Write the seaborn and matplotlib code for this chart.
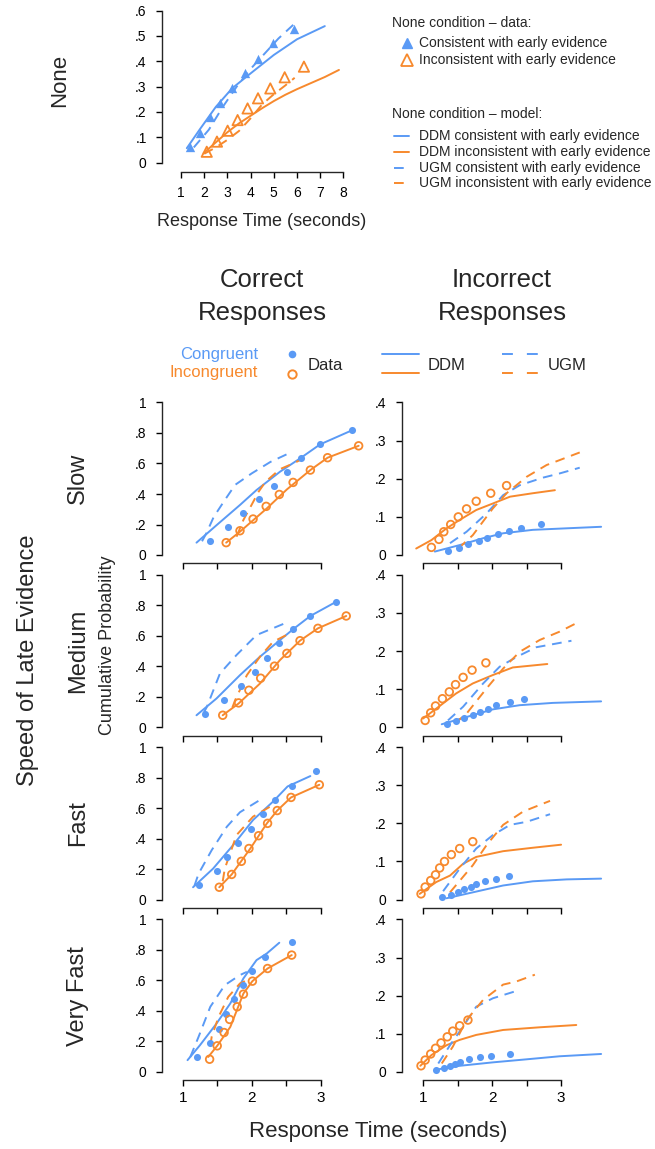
import matplotlib
matplotlib.use("Agg")
import seaborn as sns
import matplotlib.pyplot as plt
from matplotlib.lines import Line2D

W, H = 655, 1149
BLUE = "#5a9af5"
ORANGE = "#f7892d"
LW = 1.4
DASH = (0, (5, 3.5))

# ---------------- None condition (top panel) ----------------
none_xticks = [1, 2, 3, 4, 5, 6, 7, 8]
none_yticks = [0, .1, .2, .3, .4, .5, .6]
none_ylabels = ["0", ".1", ".2", ".3", ".4", ".5", ".6"]

none_dat_con_x = [1.39, 1.82, 2.23, 2.69, 3.19, 3.74, 4.30, 4.97, 5.89]
none_dat_con_y = [0.063, 0.118, 0.179, 0.237, 0.293, 0.353, 0.408, 0.474, 0.526]
none_dat_inc_x = [2.11, 2.55, 3.01, 3.44, 3.87, 4.32, 4.85, 5.47, 6.30]
none_dat_inc_y = [0.043, 0.083, 0.126, 0.168, 0.214, 0.254, 0.293, 0.337, 0.379]
none_ddm_con_x = [1.25, 1.8, 2.5, 3.2, 3.9, 5.0, 6.0, 7.2]
none_ddm_con_y = [0.057, 0.13, 0.22, 0.293, 0.345, 0.425, 0.487, 0.539]
none_ddm_inc_x = [1.97, 2.5, 3.0, 3.5, 4.0, 4.5, 5.0, 5.5, 6.0, 6.5, 7.2, 7.81]
none_ddm_inc_y = [0.037, 0.08, 0.12, 0.155, 0.185, 0.215, 0.243, 0.268, 0.29, 0.31, 0.338, 0.366]
none_ugm_con_x = [1.55, 2.2, 2.8, 3.4, 4.0, 4.6, 5.2, 5.85]
none_ugm_con_y = [0.06, 0.13, 0.22, 0.30, 0.37, 0.43, 0.49, 0.545]
none_ugm_inc_x = [2.0, 2.5, 3.0, 3.5, 4.0, 4.5, 5.0, 5.5, 5.9]
none_ugm_inc_y = [0.035, 0.06, 0.09, 0.125, 0.175, 0.23, 0.27, 0.305, 0.335]

# ---------------- late evidence panels ----------------
rows = ["Slow", "Medium", "Fast", "Very Fast"]
rt_ticks = [1, 1.5, 2, 2.5, 3]
rt_labels = ["1", "", "2", "", "3"]
cor_yticks = [0, .2, .4, .6, .8, 1]
cor_ylabels = ["0", ".2", ".4", ".6", ".8", "1"]
inc_yticks = [0, .1, .2, .3, .4]
inc_ylabels = ["0", ".1", ".2", ".3", ".4"]

slow_cor = {
    "dat_con": ([1.39, 1.66, 1.88, 2.10, 2.32, 2.51, 2.72, 2.99, 3.45],
                [0.094, 0.181, 0.273, 0.365, 0.454, 0.541, 0.633, 0.725, 0.817]),
    "dat_inc": ([1.63, 1.83, 2.02, 2.21, 2.40, 2.60, 2.85, 3.10, 3.55],
                [0.081, 0.159, 0.236, 0.319, 0.397, 0.476, 0.557, 0.638, 0.716]),
    "ddm_con": ([1.2, 1.52, 1.83, 2.07, 2.41, 2.70, 2.99, 3.45],
                [0.081, 0.207, 0.328, 0.426, 0.546, 0.633, 0.725, 0.817]),
    "ddm_inc": ([1.63, 1.83, 2.22, 2.51, 2.85, 3.10, 3.55],
                [0.081, 0.153, 0.306, 0.43, 0.557, 0.638, 0.716]),
    "ugm_con": ([1.28, 1.34, 1.45, 1.61, 1.76, 2.0, 2.27, 2.53],
                [0.09, 0.14, 0.25, 0.36, 0.46, 0.535, 0.61, 0.665]),
    "ugm_inc": ([1.78, 1.88, 2.0, 2.1, 2.2, 2.41, 2.6, 2.75],
                [0.12, 0.23, 0.33, 0.415, 0.48, 0.563, 0.60, 0.633]),
}
slow_inc = {
    "dat_con": ([1.36, 1.52, 1.65, 1.81, 1.93, 2.08, 2.24, 2.42, 2.71],
                [0.010, 0.019, 0.028, 0.037, 0.045, 0.055, 0.064, 0.072, 0.082]),
    "dat_inc": ([1.12, 1.23, 1.30, 1.40, 1.51, 1.63, 1.77, 1.98, 2.21],
                [0.020, 0.041, 0.061, 0.080, 0.100, 0.121, 0.141, 0.162, 0.182]),
    "ddm_con": ([1.17, 1.53, 1.87, 2.16, 2.59, 3.08, 3.58],
                [0.009, 0.026, 0.044, 0.057, 0.066, 0.070, 0.074]),
    "ddm_inc": ([0.90, 1.12, 1.34, 1.53, 1.77, 2.01, 2.26, 2.59, 2.91],
                [0.017, 0.039, 0.070, 0.092, 0.118, 0.135, 0.153, 0.162, 0.170]),
    "ugm_con": ([1.39, 1.63, 1.92, 2.16, 2.40, 2.74, 2.98, 3.27],
                [0.031, 0.061, 0.109, 0.157, 0.183, 0.203, 0.214, 0.229]),
    "ugm_inc": ([1.51, 1.72, 2.01, 2.21, 2.50, 2.79, 2.98, 3.27],
                [0.017, 0.052, 0.122, 0.162, 0.205, 0.236, 0.249, 0.269]),
}
medium_cor = {
    "dat_con": ([1.33, 1.60, 1.84, 2.05, 2.22, 2.40, 2.60, 2.85, 3.22],
                [0.090, 0.182, 0.274, 0.364, 0.456, 0.550, 0.643, 0.730, 0.822]),
    "dat_inc": ([1.58, 1.81, 1.96, 2.13, 2.33, 2.51, 2.70, 2.96, 3.37],
                [0.079, 0.160, 0.243, 0.322, 0.401, 0.485, 0.568, 0.649, 0.730]),
    "ddm_con": ([1.2, 1.49, 1.83, 2.12, 2.41, 2.60, 2.85, 3.22],
                [0.079, 0.189, 0.342, 0.463, 0.572, 0.643, 0.730, 0.822]),
    "ddm_inc": ([1.58, 1.81, 2.12, 2.41, 2.70, 2.96, 3.37],
                [0.079, 0.156, 0.287, 0.441, 0.568, 0.649, 0.730]),
    "ugm_con": ([1.3, 1.35, 1.54, 1.78, 2.07, 2.46],
                [0.09, 0.134, 0.353, 0.474, 0.605, 0.678]),
    "ugm_inc": ([1.72, 1.76, 1.93, 2.12, 2.31, 2.60],
                [0.13, 0.178, 0.342, 0.463, 0.561, 0.627]),
}
medium_inc = {
    "dat_con": ([1.35, 1.47, 1.60, 1.73, 1.83, 1.94, 2.06, 2.26, 2.46],
                [0.008, 0.016, 0.025, 0.032, 0.040, 0.049, 0.058, 0.067, 0.075]),
    "dat_inc": ([1.03, 1.11, 1.18, 1.28, 1.38, 1.47, 1.58, 1.71, 1.91],
                [0.018, 0.038, 0.056, 0.075, 0.093, 0.112, 0.131, 0.150, 0.169]),
    "ddm_con": ([1.27, 1.63, 2.01, 2.40, 2.88, 3.58],
                [0.008, 0.027, 0.047, 0.058, 0.064, 0.068]),
    "ddm_inc": ([1.0, 1.19, 1.48, 1.72, 2.01, 2.30, 2.80],
                [0.023, 0.049, 0.089, 0.115, 0.137, 0.157, 0.166]),
    "ugm_con": ([1.36, 1.58, 1.87, 2.11, 2.36, 2.64, 3.15],
                [0.018, 0.054, 0.115, 0.159, 0.185, 0.210, 0.227]),
    "ugm_inc": ([1.46, 1.63, 1.92, 2.16, 2.40, 2.69, 2.98, 3.22],
                [0.010, 0.036, 0.102, 0.154, 0.198, 0.229, 0.251, 0.273]),
}
fast_cor = {
    "dat_con": ([1.23, 1.49, 1.64, 1.80, 1.99, 2.16, 2.34, 2.58, 2.93],
                [0.093, 0.187, 0.280, 0.372, 0.465, 0.559, 0.650, 0.747, 0.841]),
    "dat_inc": ([1.53, 1.71, 1.85, 1.96, 2.10, 2.23, 2.37, 2.57, 2.98],
                [0.081, 0.165, 0.251, 0.335, 0.419, 0.500, 0.584, 0.670, 0.753]),
    "ddm_con": ([1.15, 1.44, 1.73, 2.02, 2.31, 2.52, 2.85],
                [0.081, 0.203, 0.357, 0.522, 0.643, 0.742, 0.81]),
    "ddm_inc": ([1.53, 1.71, 1.98, 2.22, 2.37, 2.57, 2.98],
                [0.081, 0.165, 0.335, 0.500, 0.584, 0.670, 0.753]),
    "ugm_con": ([1.17, 1.23, 1.42, 1.64, 1.83, 2.10],
                [0.09, 0.17, 0.324, 0.478, 0.573, 0.648]),
    "ugm_inc": ([1.58, 1.61, 1.78, 2.02, 2.31],
                [0.12, 0.203, 0.423, 0.544, 0.621]),
}
fast_inc = {
    "dat_con": ([1.28, 1.40, 1.51, 1.60, 1.70, 1.77, 1.89, 2.05, 2.25],
                [0.006, 0.013, 0.021, 0.028, 0.034, 0.041, 0.048, 0.055, 0.062]),
    "dat_inc": ([0.97, 1.03, 1.11, 1.18, 1.24, 1.31, 1.41, 1.53, 1.72],
                [0.015, 0.033, 0.050, 0.065, 0.083, 0.100, 0.118, 0.134, 0.152]),
    "ddm_con": ([1.34, 1.72, 2.16, 2.59, 3.08, 3.58],
                [0.0035, 0.019, 0.037, 0.048, 0.053, 0.055]),
    "ddm_inc": ([0.95, 1.19, 1.39, 1.58, 1.77, 2.16, 2.59, 3.0],
                [0.015, 0.046, 0.063, 0.094, 0.112, 0.127, 0.136, 0.144]),
    "ugm_con": ([1.29, 1.53, 1.77, 2.01, 2.26, 2.50, 2.84],
                [0.022, 0.081, 0.134, 0.169, 0.196, 0.204, 0.224]),
    "ugm_inc": ([1.39, 1.72, 1.92, 2.16, 2.45, 2.84],
                [0.019, 0.090, 0.143, 0.196, 0.231, 0.259]),
}
vfast_cor = {
    "dat_con": ([1.21, 1.40, 1.53, 1.63, 1.75, 1.88, 2.00, 2.19, 2.59],
                [0.098, 0.190, 0.284, 0.379, 0.475, 0.567, 0.663, 0.755, 0.853]),
    "dat_inc": ([1.39, 1.50, 1.60, 1.68, 1.79, 1.88, 2.01, 2.23, 2.58],
                [0.083, 0.171, 0.258, 0.344, 0.427, 0.510, 0.595, 0.678, 0.766]),
    "ddm_con": ([1.07, 1.25, 1.49, 1.69, 1.88, 2.07, 2.22, 2.40],
                [0.077, 0.175, 0.317, 0.449, 0.613, 0.733, 0.777, 0.847]),
    "ddm_inc": ([1.37, 1.50, 1.69, 1.88, 2.01, 2.23, 2.58],
                [0.098, 0.171, 0.295, 0.514, 0.595, 0.678, 0.766]),
    "ugm_con": ([1.11, 1.23, 1.40, 1.61, 1.83, 1.93],
                [0.098, 0.23, 0.427, 0.569, 0.635, 0.656]),
    "ugm_inc": ([1.40, 1.42, 1.52, 1.66, 1.83, 1.93],
                [0.17, 0.23, 0.361, 0.492, 0.58, 0.60]),
}
vfast_inc = {
    "dat_con": ([1.18, 1.30, 1.39, 1.46, 1.53, 1.66, 1.83, 1.99, 2.26],
                [0.006, 0.011, 0.016, 0.022, 0.026, 0.033, 0.038, 0.042, 0.048]),
    "dat_inc": ([0.97, 1.03, 1.11, 1.18, 1.26, 1.35, 1.43, 1.53, 1.65],
                [0.016, 0.031, 0.047, 0.062, 0.076, 0.092, 0.107, 0.121, 0.136]),
    "ddm_con": ([1.19, 1.53, 2.01, 2.50, 2.98, 3.58],
                [0.006, 0.016, 0.025, 0.033, 0.041, 0.047]),
    "ddm_inc": ([0.96, 1.12, 1.34, 1.53, 1.77, 2.16, 2.69, 3.22],
                [0.016, 0.044, 0.070, 0.084, 0.097, 0.110, 0.117, 0.123]),
    "ugm_con": ([1.22, 1.39, 1.58, 1.77, 2.01, 2.40],
                [0.022, 0.070, 0.119, 0.171, 0.193, 0.215]),
    "ugm_inc": ([1.27, 1.43, 1.63, 1.87, 2.16, 2.35, 2.62],
                [0.022, 0.066, 0.136, 0.189, 0.229, 0.237, 0.255]),
}
correct_panels = [slow_cor, medium_cor, fast_cor, vfast_cor]
incorrect_panels = [slow_inc, medium_inc, fast_inc, vfast_inc]


def px_axes(fig, left, top, right, bottom):
    return fig.add_axes([left / W, 1 - bottom / H, (right - left) / W, (bottom - top) / H])


def style_axes(ax, xticks, xlabels, yticks, ylabels, xb, yb, xpad=4):
    sns.despine(ax=ax)
    ax.spines["left"].set_bounds(*yb)
    ax.spines["bottom"].set_bounds(*xb)
    for s in ["left", "bottom"]:
        ax.spines[s].set_linewidth(1.0)
    ax.set_xticks(xticks)
    ax.set_xticklabels(xlabels)
    ax.set_yticks(yticks)
    ax.set_yticklabels(ylabels)
    ax.tick_params(axis="both", direction="out", length=4, width=1.0, labelsize=10, colors="black")
    ax.tick_params(axis="y", pad=7)
    ax.tick_params(axis="x", pad=xpad)
    ax.set_xlabel("")
    ax.set_ylabel("")
    ax.patch.set_alpha(0)


def curve(ax, xs, ys, color, dashed=False):
    kw = dict(linestyle=DASH) if dashed else {}
    sns.lineplot(x=xs, y=ys, ax=ax, color=color, linewidth=LW, sort=False,
                 estimator=None, **kw)


def draw_panel(ax, p):
    curve(ax, *p["ddm_con"], BLUE)
    curve(ax, *p["ddm_inc"], ORANGE)
    curve(ax, *p["ugm_con"], BLUE, dashed=True)
    curve(ax, *p["ugm_inc"], ORANGE, dashed=True)
    sns.scatterplot(x=p["dat_con"][0], y=p["dat_con"][1], ax=ax, color=BLUE,
                    s=26, linewidth=0, zorder=5)
    sns.scatterplot(x=p["dat_inc"][0], y=p["dat_inc"][1], ax=ax, facecolor="none",
                    edgecolor=ORANGE, s=30, linewidth=1.3, zorder=5)


sns.set_style("ticks")
plt.rcParams["font.family"] = ["Liberation Sans", "DejaVu Sans"]

fig = plt.figure(figsize=(W / 100, H / 100), dpi=100)

# overlay in pixel coordinates for labels and legends
ov = fig.add_axes([0, 0, 1, 1])
ov.set_xlim(0, W)
ov.set_ylim(H, 0)
ov.axis("off")

# ---- top panel
ax0 = px_axes(fig, 162, 5.6, 348, 172)
curve(ax0, none_ddm_con_x, none_ddm_con_y, BLUE)
curve(ax0, none_ddm_inc_x, none_ddm_inc_y, ORANGE)
curve(ax0, none_ugm_con_x, none_ugm_con_y, BLUE, dashed=True)
curve(ax0, none_ugm_inc_x, none_ugm_inc_y, ORANGE, dashed=True)
sns.scatterplot(x=none_dat_con_x, y=none_dat_con_y, ax=ax0, color=BLUE, marker="^",
                s=45, linewidth=0, zorder=5)
sns.scatterplot(x=none_dat_inc_x, y=none_dat_inc_y, ax=ax0, marker="^", facecolor="none",
                edgecolor=ORANGE, s=55, linewidth=1.3, zorder=5)
ax0.set_xlim(0.18, 8.2)
ax0.set_ylim(-0.037, 0.62)
style_axes(ax0, none_xticks, [str(v) for v in none_xticks], none_yticks, none_ylabels,
           (1, 8), (0, 0.6), xpad=6)

# ---- grid of panels
for i in range(4):
    top = 402.5 + 172.3 * i - 0.02 * 152.5
    bottom = top + 1.075 * 152.5
    axl = px_axes(fig, 162, top, 369, bottom)
    draw_panel(axl, correct_panels[i])
    axl.set_xlim(0.7, 3.7)
    axl.set_ylim(-0.055, 1.02)
    xl = rt_labels if i == 3 else [""] * 5
    style_axes(axl, rt_ticks, xl, cor_yticks, cor_ylabels, (1, 3), (0, 1))

    axr = px_axes(fig, 401.7, top, 609.4, bottom)
    draw_panel(axr, incorrect_panels[i])
    axr.set_xlim(0.69, 3.7)
    axr.set_ylim(-0.022, 0.408)
    style_axes(axr, rt_ticks, xl, inc_yticks, inc_ylabels, (1, 3), (0, 0.4))
    for a in (axl, axr):
        a.tick_params(axis="x", labelsize=11)

    ov.text(78, 478.7 + 172.3 * i, rows[i], rotation=90, ha="center", va="center", fontsize=17)

# ---- text labels
ov.text(60, 80, "None", rotation=90, ha="center", va="center", fontsize=16)
ov.text(262, 222, "Response Time (seconds)", ha="center", va="center", fontsize=13)
ov.text(262, 280, "Correct", ha="center", va="center", fontsize=18.5)
ov.text(262, 313, "Responses", ha="center", va="center", fontsize=18.5)
ov.text(502, 280, "Incorrect", ha="center", va="center", fontsize=18.5)
ov.text(502, 313, "Responses", ha="center", va="center", fontsize=18.5)
ov.text(28, 660, "Speed of Late Evidence", rotation=90, ha="center", va="center", fontsize=17)
ov.text(108, 645, "Cumulative Probability", rotation=90, ha="center", va="center", fontsize=13)
ov.text(378, 1132, "Response Time (seconds)", ha="center", va="center", fontsize=16)

# ---- top legend
ov.text(392, 22.7, "None condition \u2013 data:", ha="left", va="center", fontsize=10)
ov.plot([407], [43.3], marker="^", color=BLUE, markersize=7, linestyle="none")
ov.text(419, 43.3, "Consistent with early evidence", ha="left", va="center", fontsize=10)
ov.plot([407], [60], marker="^", markerfacecolor="none", markeredgecolor=ORANGE,
        markersize=8, markeredgewidth=1.3, linestyle="none")
ov.text(419, 60, "Inconsistent with early evidence", ha="left", va="center", fontsize=10)
ov.text(392, 114.3, "None condition \u2013 model:", ha="left", va="center", fontsize=10)
model_rows = [("DDM consistent with early evidence", BLUE, "-"),
              ("DDM inconsistent with early evidence", ORANGE, "-"),
              ("UGM consistent with early evidence", BLUE, DASH),
              ("UGM inconsistent with early evidence", ORANGE, DASH)]
for j, (lab, col, ls) in enumerate(model_rows):
    yy = 136 + 15.8 * j
    ov.add_line(Line2D([394, 409], [yy, yy], color=col, linewidth=LW, linestyle=ls))
    ov.text(419, yy, lab, ha="left", va="center", fontsize=10)

# ---- middle legend
ov.text(258, 355, "Congruent", ha="right", va="center", fontsize=12, color=BLUE)
ov.text(258, 373, "Incongruent", ha="right", va="center", fontsize=12, color=ORANGE)
ov.plot([292], [354], marker="o", color=BLUE, markersize=5.5, markeredgewidth=0, linestyle="none")
ov.plot([292], [374], marker="o", markerfacecolor="none", markeredgecolor=ORANGE,
        markersize=6, markeredgewidth=1.4, linestyle="none")
ov.text(308, 365, "Data", ha="left", va="center", fontsize=12)
ov.add_line(Line2D([382, 419], [354, 354], color=BLUE, linewidth=LW))
ov.add_line(Line2D([382, 419], [373, 373], color=ORANGE, linewidth=LW))
ov.text(428, 365, "DDM", ha="left", va="center", fontsize=12)
ov.add_line(Line2D([502, 538], [354, 354], color=BLUE, linewidth=LW, linestyle=(0, (5.6, 7.2))))
ov.add_line(Line2D([502, 538], [373, 373], color=ORANGE, linewidth=LW, linestyle=(0, (5.6, 7.2))))
ov.text(548, 365, "UGM", ha="left", va="center", fontsize=12)

fig.savefig("out.png", dpi=100)
